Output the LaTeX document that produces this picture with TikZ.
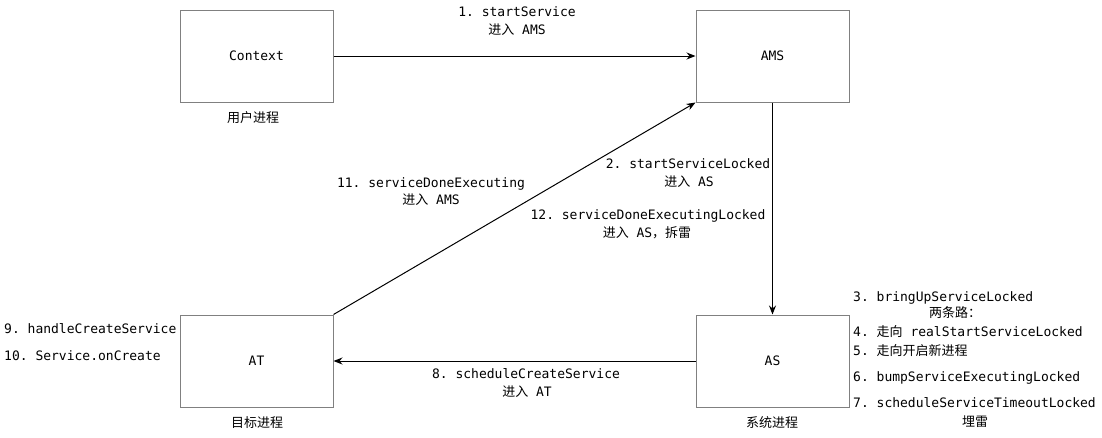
\documentclass[tikz,border=0pt]{standalone}
\usepackage{fontspec}
\setmonofont{DejaVu Sans Mono}
\newfontfamily\cjk{Noto Sans CJK SC}
\usetikzlibrary{arrows.meta}
\definecolor{boxgray}{RGB}{128,128,128}
\tikzset{
  box/.style={draw=boxgray, line width=1pt, minimum width=153pt, minimum height=92pt, inner sep=0pt, font=\ttfamily\fontsize{13}{15}\selectfont},
  lbl/.style={inner sep=0pt, font=\ttfamily\fontsize{13}{15}\selectfont},
  arr/.style={draw=black, line width=1pt, -{Stealth[length=9pt,width=7pt]}}
}
\begin{document}
\begin{tikzpicture}[x=1pt,y=-1pt]
\useasboundingbox[fill=white] (0,0) rectangle (1102,437);
% boxes
\node[box] (ctx) at (256.5,56) {Context};
\node[box] (ams) at (772.5,56) {AMS};
\node[box] (at)  at (256.5,361) {AT};
\node[box] (as)  at (772.5,361) {AS};
% connectors
\draw[arr] (ctx.east) -- (ams.west);
\draw[arr] (ams.south) -- (as.north);
\draw[arr] (as.west) -- (at.east);
\draw[arr] (at.north east) -- (ams.south west);
% process labels
\node[lbl] (l1) at (253,118) {\cjk 用户进程};
\node[lbl] (l2) at (257,423) {\cjk 目标进程};
\node[lbl] (l3) at (772,423) {\cjk 系统进程};
% step 1
\node[lbl] (s1a) at (517,12) {1. startService};
\node[lbl] (s1b) at (517,30) {{\cjk 进入} AMS};
% step 2
\node[lbl] (s2a) at (688,164) {2. startServiceLocked};
\node[lbl] (s2b) at (689,182) {{\cjk 进入} AS};
% step 11
\node[lbl] (s11a) at (431,184) {11. serviceDoneExecuting};
\node[lbl] (s11b) at (431,200) {{\cjk 进入} AMS};
% step 12
\node[lbl] (s12a) at (648,216) {12. serviceDoneExecutingLocked};
\node[lbl] (s12b) at (647,233) {{\cjk 进入} AS{\cjk ，拆雷}};
% step 8
\node[lbl] (s8a) at (526,374) {8. scheduleCreateService};
\node[lbl] (s8b) at (527,392) {{\cjk 进入} AT};
% right side
\node[lbl, anchor=west] (s3) at (853,298) {3. bringUpServiceLocked};
\node[lbl] (s3b) at (955,313) {\cjk 两条路：};
\node[lbl, anchor=west] (s4) at (853,332) {4. {\cjk 走向} realStartServiceLocked};
\node[lbl, anchor=west] (s5) at (853,351) {5. {\cjk 走向开启新进程}};
\node[lbl, anchor=west] (s6) at (853,378) {6. bumpServiceExecutingLocked};
\node[lbl, anchor=west] (s7) at (853,403) {7. scheduleServiceTimeoutLocked};
\node[lbl] (s7b) at (975,422) {\cjk 埋雷};
% left side
\node[lbl, anchor=west] (s9) at (4,329) {9. handleCreateService};
\node[lbl, anchor=west] (s10) at (4,356) {10. Service.onCreate};
\end{tikzpicture}
\end{document}
